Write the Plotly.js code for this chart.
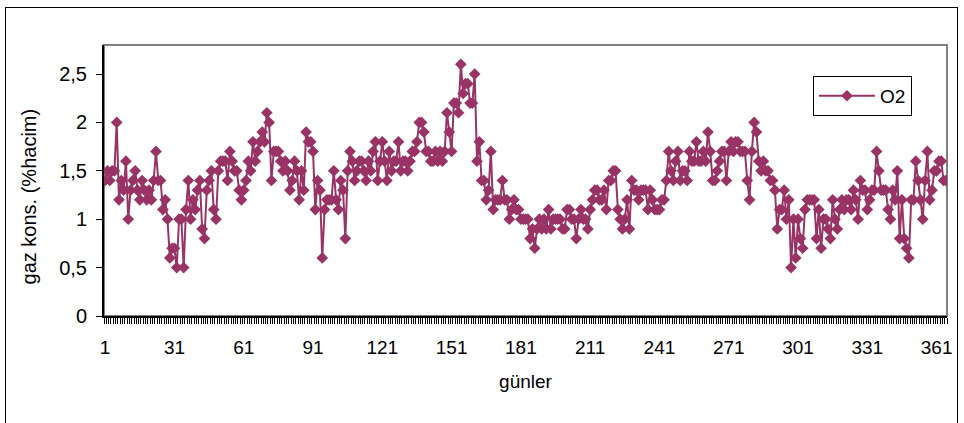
<!DOCTYPE html>
<html>
<head>
<meta charset="utf-8">
<script src="https://cdn.plot.ly/plotly-3.0.1.min.js"></script>
<style>
  html, body { margin: 0; padding: 0; background: #fff; }
  #wrap { position: relative; width: 964px; height: 423px; overflow: hidden; }
  #chart { width: 964px; height: 423px; }
  #frame { position: absolute; left: 5px; top: 7px; width: 951px; height: 440px; border: 1px solid #000; pointer-events: none; }
</style>
</head>
<body>
<div id="wrap"><div id="chart"></div><div id="frame"></div></div>
<script>
const seriesName = "O2";
const xTitle = "günler";
const yTitle = "gaz kons. (%hacim)";
const tickLabels = ["1","31","61","91","121","151","181","211","241","271","301","331","361"];

const o2 = [
  1.4,1.5,1.4,1.5,1.5,2.0,1.2,1.4,1.3,1.6,
  1.0,1.3,1.4,1.5,1.3,1.2,1.4,1.3,1.2,1.3,
  1.2,1.4,1.7,1.4,1.4,1.1,1.2,1.0,0.6,0.7,
  0.7,0.5,1.0,1.0,0.5,1.1,1.4,1.0,1.2,1.1,
  1.3,1.4,0.9,0.8,1.3,1.4,1.5,1.1,1.0,1.5,
  1.6,1.6,1.6,1.4,1.7,1.6,1.5,1.5,1.3,1.2,
  1.3,1.4,1.6,1.5,1.8,1.6,1.7,1.8,1.9,1.8,
  2.1,2.0,1.4,1.7,1.7,1.7,1.6,1.5,1.6,1.5,
  1.3,1.4,1.6,1.5,1.2,1.5,1.3,1.9,1.8,1.8,
  1.7,1.1,1.4,1.3,0.6,1.1,1.2,1.2,1.2,1.5,
  1.2,1.1,1.4,1.3,0.8,1.5,1.7,1.6,1.4,1.5,
  1.6,1.6,1.5,1.4,1.6,1.5,1.7,1.8,1.4,1.6,
  1.8,1.6,1.4,1.7,1.5,1.6,1.6,1.8,1.5,1.6,
  1.6,1.5,1.6,1.7,1.7,1.8,2.0,2.0,1.9,1.7,
  1.7,1.6,1.6,1.7,1.6,1.7,1.6,1.7,2.1,1.9,
  1.7,2.2,2.2,2.1,2.6,2.3,2.4,2.4,2.2,2.2,
  2.5,1.6,1.8,1.4,1.4,1.2,1.3,1.7,1.1,1.2,
  1.2,1.2,1.4,1.2,1.2,1.0,1.1,1.2,1.1,1.1,
  1.0,1.0,1.0,1.0,0.8,0.9,0.7,0.9,1.0,0.9,
  1.0,0.9,1.1,0.9,1.0,1.0,1.0,1.0,0.9,0.9,
  1.1,1.1,1.0,1.0,0.8,1.0,1.1,1.0,1.0,0.9,
  1.1,1.2,1.3,1.3,1.2,1.2,1.3,1.1,1.4,1.4,
  1.5,1.5,1.1,1.0,0.9,1.0,1.2,0.9,1.4,1.3,
  1.3,1.2,1.3,1.3,1.3,1.1,1.3,1.2,1.1,1.1,
  1.1,1.2,1.2,1.4,1.7,1.5,1.4,1.6,1.7,1.4,
  1.5,1.5,1.4,1.7,1.6,1.6,1.8,1.6,1.6,1.7,
  1.6,1.9,1.7,1.4,1.4,1.5,1.6,1.7,1.7,1.4,
  1.7,1.8,1.7,1.8,1.8,1.7,1.7,1.7,1.4,1.2,
  1.7,2.0,1.9,1.6,1.5,1.6,1.5,1.5,1.4,1.4,
  1.3,0.9,1.1,1.1,1.3,1.0,1.2,0.5,1.0,0.6,
  1.0,0.8,0.7,1.1,1.2,1.2,1.2,1.2,0.8,1.1,
  0.7,1.0,1.0,0.9,0.8,1.2,1.0,0.9,1.1,1.2,
  1.1,1.2,1.2,1.1,1.3,1.2,1.0,1.4,1.3,1.3,
  1.1,1.2,1.3,1.3,1.7,1.5,1.3,1.3,1.3,1.1,
  1.0,1.3,1.2,1.5,0.8,1.2,0.8,0.7,0.6,1.2,
  1.2,1.6,1.4,1.2,1.0,1.4,1.7,1.2,1.3,1.5,
  1.5,1.6,1.6,1.4,1.4
];

const days = o2.map((_, i) => i + 1);
const tickVals = tickLabels.map(Number);

const font = "Liberation Sans, Arial, sans-serif";
const color = "#993366";

const trace = {
  x: days, y: o2, type: "scatter", mode: "lines+markers", name: seriesName,
  line: { color: color, width: 2 },
  marker: { symbol: "diamond", size: 9, color: color }
};

const layout = {
  width: 964, height: 423,
  margin: { l: 104, r: 17, t: 45, b: 107 },
  paper_bgcolor: "#fff", plot_bgcolor: "#fff",
  separators: ", ",
  font: { family: font, size: 19, color: "#000" },
  showlegend: true,
  legend: {
    x: 0.841, y: 0.886, xanchor: "left", yanchor: "top",
    bordercolor: "#000", borderwidth: 1, bgcolor: "#fff",
    itemwidth: 56,
    font: { family: font, size: 19, color: "#000" }
  },
  xaxis: {
    range: [0.5, 365.5],
    tickmode: "array", tickvals: tickVals, ticktext: tickLabels,
    ticks: "", showgrid: false, zeroline: false,
    showline: true, linecolor: "#000", linewidth: 2,
    tickfont: { family: font, size: 19 },
    ticklabelstandoff: 13,
    minor: { tickmode: "linear", tick0: 0.5, dtick: 1, ticks: "outside", ticklen: 6, tickwidth: 1, tickcolor: "#000", showgrid: false },
    title: { text: xTitle, font: { family: font, size: 19 }, standoff: 18 }
  },
  yaxis: {
    range: [0, 2.8],
    tickmode: "linear", tick0: 0, dtick: 0.5,
    ticks: "outside", ticklen: 6, tickwidth: 1, tickcolor: "#000",
    tickfont: { family: font, size: 20 },
    ticklabelstandoff: 5,
    showgrid: false, zeroline: false,
    showline: true, linecolor: "#000", linewidth: 2
  },
  annotations: [{
    text: yTitle, textangle: -90, showarrow: false,
    xref: "paper", yref: "paper", x: -0.0878, y: 0.441,
    xanchor: "center", yanchor: "middle",
    font: { family: font, size: 20, color: "#000" }
  }],
  shapes: [{
    type: "rect", xref: "paper", yref: "paper", x0: 0, x1: 1, y0: 0, y1: 1,
    line: { color: "#808080", width: 2 }, layer: "below"
  }]
};

Plotly.newPlot("chart", [trace], layout, { displayModeBar: false, staticPlot: true });
</script>
</body>
</html>
